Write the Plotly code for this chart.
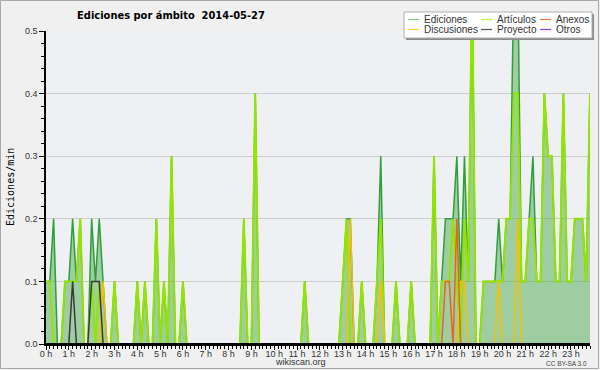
import plotly.graph_objects as go

# ---------------- data (edits per minute, 10-minute bins, one row per hour) ----------------
hours = list(range(24))
hour_labels = [f"{h} h" for h in hours]

ediciones_rows = [
    [0.1, 0.1, 0.2, 0, 0, 0.1],
    [0.1, 0.2, 0.1, 0.2, 0, 0],
    [0.2, 0.1, 0.2, 0.1, 0, 0],
    [0.1, 0, 0, 0, 0, 0],
    [0.1, 0, 0.1, 0, 0, 0.2],
    [0, 0.1, 0, 0.3, 0, 0],
    [0.1, 0, 0, 0, 0, 0],
    [0, 0, 0, 0, 0, 0],
    [0, 0, 0, 0, 0.2, 0],
    [0, 0.4, 0, 0, 0, 0],
    [0, 0, 0, 0, 0, 0],
    [0, 0, 0.1, 0, 0, 0],
    [0, 0, 0, 0, 0, 0],
    [0.1, 0.2, 0.2, 0, 0, 0.1],
    [0, 0, 0, 0.1, 0.3, 0],
    [0, 0, 0.1, 0, 0, 0],
    [0.1, 0, 0, 0, 0, 0],
    [0.3, 0, 0.1, 0.2, 0.2, 0.2],
    [0.3, 0.1, 0.3, 0.1, 0.6, 0],
    [0, 0.1, 0.1, 0.1, 0.1, 0.2],
    [0.1, 0.2, 0.2, 0.6, 0.6, 0.1],
    [0.1, 0.2, 0.3, 0.1, 0.1, 0.4],
    [0.3, 0.3, 0.1, 0.1, 0.4, 0.1],
    [0.1, 0.2, 0.2, 0.2, 0.1, 0.4],
]
articulos_rows = [
    [0.1, 0.1, 0, 0, 0, 0.1],
    [0.1, 0.1, 0.1, 0.2, 0, 0],
    [0.1, 0, 0.1, 0, 0, 0],
    [0.1, 0, 0, 0, 0, 0],
    [0.1, 0, 0.1, 0, 0, 0.2],
    [0, 0.1, 0, 0.3, 0, 0],
    [0.1, 0, 0, 0, 0, 0],
    [0, 0, 0, 0, 0, 0],
    [0, 0, 0, 0, 0.2, 0],
    [0, 0.4, 0, 0, 0, 0],
    [0, 0, 0, 0, 0, 0],
    [0, 0, 0.1, 0, 0, 0],
    [0, 0, 0, 0, 0, 0],
    [0.1, 0.2, 0, 0, 0, 0.1],
    [0, 0, 0, 0.1, 0.2, 0],
    [0, 0, 0.1, 0, 0, 0],
    [0.1, 0, 0, 0, 0, 0],
    [0.3, 0, 0.1, 0.1, 0.1, 0.2],
    [0.1, 0, 0.2, 0.1, 0.6, 0],
    [0, 0.1, 0.1, 0.1, 0.1, 0.1],
    [0.1, 0.2, 0.2, 0.4, 0.4, 0.1],
    [0.1, 0.2, 0.2, 0.1, 0.1, 0.4],
    [0.3, 0.3, 0.1, 0.1, 0.4, 0.1],
    [0.1, 0.2, 0.2, 0.2, 0.1, 0.4],
]
discusiones_rows = [
    [0, 0, 0, 0, 0, 0], [0, 0, 0, 0, 0, 0], [0, 0, 0, 0.1, 0, 0], [0, 0, 0, 0, 0, 0],
    [0, 0, 0, 0, 0, 0], [0, 0, 0, 0, 0, 0], [0, 0, 0, 0, 0, 0], [0, 0, 0, 0, 0, 0],
    [0, 0, 0, 0, 0, 0], [0, 0, 0, 0, 0, 0], [0, 0, 0, 0, 0, 0], [0, 0, 0, 0, 0, 0],
    [0, 0, 0, 0, 0, 0], [0, 0, 0.2, 0, 0, 0], [0, 0, 0, 0, 0.1, 0], [0, 0, 0, 0, 0, 0],
    [0, 0, 0, 0, 0, 0], [0, 0, 0, 0, 0, 0], [0, 0.1, 0.1, 0, 0, 0], [0, 0, 0, 0, 0, 0.1],
    [0, 0, 0, 0, 0.2, 0], [0, 0, 0, 0, 0, 0], [0, 0, 0, 0, 0, 0], [0, 0, 0, 0, 0, 0],
]
anexos_rows = [
    [0, 0, 0, 0, 0, 0], [0, 0, 0, 0, 0, 0], [0, 0, 0, 0, 0, 0], [0, 0, 0, 0, 0, 0],
    [0, 0, 0, 0, 0, 0], [0, 0, 0, 0, 0, 0], [0, 0, 0, 0, 0, 0], [0, 0, 0, 0, 0, 0],
    [0, 0, 0, 0, 0, 0], [0, 0, 0, 0, 0, 0], [0, 0, 0, 0, 0, 0], [0, 0, 0, 0, 0, 0],
    [0, 0, 0, 0, 0, 0], [0, 0, 0, 0, 0, 0], [0, 0, 0, 0, 0, 0], [0, 0, 0, 0, 0, 0],
    [0, 0, 0, 0, 0, 0], [0, 0, 0, 0.1, 0.1, 0], [0.2, 0, 0, 0, 0, 0], [0, 0, 0, 0, 0, 0],
    [0, 0, 0, 0, 0, 0], [0, 0, 0, 0, 0, 0], [0, 0, 0, 0, 0, 0], [0, 0, 0, 0, 0, 0],
]
proyecto_rows = [
    [0, 0, 0, 0, 0, 0], [0, 0.1, 0, 0, 0, 0], [0.1, 0.1, 0.1, 0, 0, 0], [0, 0, 0, 0, 0, 0],
    [0, 0, 0, 0, 0, 0], [0, 0, 0, 0, 0, 0], [0, 0, 0, 0, 0, 0], [0, 0, 0, 0, 0, 0],
    [0, 0, 0, 0, 0, 0], [0, 0, 0, 0, 0, 0], [0, 0, 0, 0, 0, 0], [0, 0, 0, 0, 0, 0],
    [0, 0, 0, 0, 0, 0], [0, 0, 0, 0, 0, 0], [0, 0, 0, 0, 0, 0], [0, 0, 0, 0, 0, 0],
    [0, 0, 0, 0, 0, 0], [0, 0, 0, 0, 0, 0], [0, 0, 0, 0, 0, 0], [0, 0, 0, 0, 0, 0],
    [0, 0, 0, 0, 0, 0], [0, 0, 0, 0, 0, 0], [0, 0, 0, 0, 0, 0], [0, 0, 0, 0, 0, 0],
]
otros_rows = [
    [0, 0, 0, 0, 0, 0], [0, 0, 0, 0, 0, 0], [0, 0, 0, 0, 0, 0], [0, 0, 0, 0, 0, 0],
    [0, 0, 0, 0, 0, 0], [0, 0, 0, 0, 0, 0], [0, 0, 0, 0, 0, 0], [0, 0, 0, 0, 0, 0],
    [0, 0, 0, 0, 0, 0], [0, 0, 0, 0, 0, 0], [0, 0, 0, 0, 0, 0], [0, 0, 0, 0, 0, 0],
    [0, 0, 0, 0, 0, 0], [0, 0, 0, 0, 0, 0], [0, 0, 0, 0, 0, 0], [0, 0, 0, 0, 0, 0],
    [0, 0, 0, 0, 0, 0], [0, 0, 0, 0, 0, 0], [0, 0, 0, 0, 0, 0], [0, 0, 0, 0, 0, 0],
    [0, 0, 0, 0, 0, 0], [0, 0, 0, 0, 0, 0], [0, 0, 0, 0, 0, 0], [0, 0, 0, 0, 0, 0],
]

def flat(rows):
    return [v for row in rows for v in row]

ediciones = flat(ediciones_rows)
articulos = flat(articulos_rows)
discusiones = flat(discusiones_rows)
anexos = flat(anexos_rows)
proyecto = flat(proyecto_rows)
otros = flat(otros_rows)
t = [i / 6 for i in range(len(ediciones))]  # hours

# ---------------- layout geometry ----------------
W, H = 600, 370
L, R, T, B = 46, 10, 31, 26
PW, PH = W - L - R, H - T - B
def px(x):
    return (x - L) / PW
def py(y):
    return (H - B - y) / PH

FONT = "Liberation Sans, Arial, sans-serif"
TITLE_FONT = "DejaVu Sans Condensed, DejaVu Sans, sans-serif"

fig = go.Figure()
fig.add_trace(go.Scatter(x=t, y=ediciones, mode="lines", name="Ediciones", fill="tozeroy",
                         fillcolor="rgba(70,165,70,0.47)",
                         line=dict(color="#2f9f3a", width=1.5), showlegend=False))
series = [
    ("Artículos", articulos, "#94e400", 2.0),
    ("Discusiones", discusiones, "#f5c000", 1.5),
    ("Anexos", anexos, "#f0601e", 1.5),
    ("Proyecto", proyecto, "#3a3a3a", 1.5),
    ("Otros", otros, "#8a3ff0", 1.5),
]
for name, vals, color, width in series:
    fig.add_trace(go.Scatter(x=t, y=vals, mode="lines", name=name,
                             line=dict(color=color, width=width), showlegend=False))

shapes = []
annotations = []

# baseline drawn over the zero-valued series (axis line)
shapes.append(dict(type="line", xref="paper", yref="y", layer="above",
                   x0=0, x1=1, y0=0, y1=0, line=dict(color="#000000", width=2)))

# outer border
shapes.append(dict(type="rect", xref="paper", yref="paper", layer="above",
                   x0=px(0.5), x1=px(598.5), y0=py(0.5), y1=py(368.5),
                   line=dict(color="#a8a8a8", width=1), fillcolor="rgba(0,0,0,0)"))

# manual legend (box with shadow)
shapes.append(dict(type="rect", xref="paper", yref="paper", layer="above",
                   x0=px(406), x1=px(594), y0=py(14), y1=py(40),
                   line=dict(width=0), fillcolor="#8a8a8a"))
shapes.append(dict(type="rect", xref="paper", yref="paper", layer="above",
                   x0=px(404), x1=px(592), y0=py(12), y1=py(38),
                   line=dict(color="#b0b0b0", width=1), fillcolor="#ffffff"))
legend_items = [
    ("Ediciones", "#80cc80", 408, 19.5),
    ("Discusiones", "#ffd030", 408, 29.5),
    ("Artículos", "#c4f040", 481, 19.5),
    ("Proyecto", "#555555", 481, 29.5),
    ("Anexos", "#ff7a40", 540, 19.5),
    ("Otros", "#9040f0", 540, 29.5),
]
for label, color, x0, yc in legend_items:
    shapes.append(dict(type="line", xref="paper", yref="paper", layer="above",
                       x0=px(x0), x1=px(x0 + 11), y0=py(yc), y1=py(yc),
                       line=dict(color=color, width=1.2)))
    annotations.append(dict(text=label, xref="paper", yref="paper", x=px(x0 + 14), y=py(yc),
                            xanchor="left", yanchor="middle", showarrow=False,
                            font=dict(family=FONT, size=10, color="#333333")))

# y axis title
annotations.append(dict(text="Ediciones/min", xref="paper", yref="paper", x=px(10), y=py(187),
                        textangle=-90, xanchor="center", yanchor="middle", showarrow=False,
                        font=dict(family="DejaVu Sans Mono", size=10, color="#000000")))
# footer texts
annotations.append(dict(text="wikiscan.org", xref="paper", yref="paper", x=px(300), y=py(362),
                        xanchor="center", yanchor="middle", showarrow=False,
                        font=dict(family=FONT, size=9, color="#333333")))
annotations.append(dict(text="CC BY-SA 3.0", xref="paper", yref="paper", x=px(589), y=py(363),
                        xanchor="right", yanchor="middle", showarrow=False,
                        font=dict(family=FONT, size=6.5, color="#444444")))

fig.update_layout(
    width=W, height=H,
    margin=dict(l=L, r=R, t=T, b=B, pad=0),
    paper_bgcolor="#f0f0f0", plot_bgcolor="#eef0f3",
    showlegend=False,
    title=dict(text="Ediciones por ámbito \u00a02014-05-27", xref="container", yref="container",
               x=171 / W, y=1 - 15 / H, xanchor="center", yanchor="middle",
               font=dict(family=TITLE_FONT, size=11, color="#000000", weight="bold")),
    shapes=shapes, annotations=annotations,
    xaxis=dict(range=[0, t[-1]], tickmode="array", tickvals=hours, ticktext=hour_labels,
               ticks="outside", ticklen=4, tickwidth=1, tickcolor="#000000", automargin=False,
               tickangle=0, ticklabelstandoff=-4,
               showgrid=False, zeroline=False, showline=True, linecolor="#000000", linewidth=1.5,
               tickfont=dict(family=FONT, size=9, color="#333333"),
               minor=dict(tickmode="linear", tick0=0, dtick=1 / 6, ticks="outside", ticklen=3,
                          tickcolor="#000000", tickwidth=1, showgrid=False),
               fixedrange=True),
    yaxis=dict(range=[0, 0.5], tickmode="linear", tick0=0, dtick=0.1, tickformat=".1f",
               ticks="outside", ticklen=5, tickwidth=1, tickcolor="#000000", automargin=False,
               showgrid=True, gridcolor="#cccccc", gridwidth=1,
               zeroline=False, showline=True, linecolor="#000000", linewidth=1.5,
               tickfont=dict(family=FONT, size=9, color="#333333"),
               minor=dict(tickmode="linear", tick0=0, dtick=0.02, ticks="outside", ticklen=3,
                          tickcolor="#000000", tickwidth=1, showgrid=False),
               fixedrange=True),
)

fig.write_html("out.html", config={"displayModeBar": False},
               post_script="document.body.style.margin='0';document.body.style.padding='0';")
